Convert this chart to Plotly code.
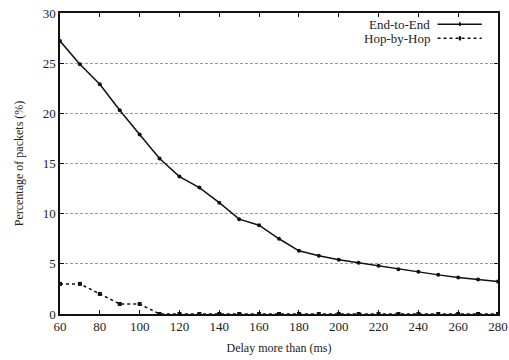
import plotly.graph_objects as go

delay = [60, 70, 80, 90, 100, 110, 120, 130, 140, 150, 160, 170, 180, 190, 200,
         210, 220, 230, 240, 250, 260, 270, 280]
end_to_end = [27.2, 24.9, 22.9, 20.3, 17.9, 15.5, 13.7, 12.6, 11.1, 9.45, 8.85, 7.5,
              6.3, 5.8, 5.4, 5.1, 4.8, 4.45, 4.2, 3.9, 3.65, 3.45, 3.25]
hop_by_hop = [3, 3, 2, 1, 1, 0, 0, 0, 0, 0, 0, 0, 0, 0, 0, 0, 0, 0, 0, 0, 0, 0, 0]
names = ["End-to-End", "Hop-by-Hop"]
x_ticks = list(range(60, 281, 20))
y_ticks = list(range(0, 31, 5))

FONT = "Liberation Serif"
fig = go.Figure()
fig.add_trace(go.Scatter(x=delay, y=end_to_end, name=names[0], mode="lines+markers",
                         line=dict(color="#111", width=1.5),
                         marker=dict(symbol="circle", size=4, color="#111"),
                         showlegend=False, cliponaxis=False))
fig.add_trace(go.Scatter(x=delay, y=hop_by_hop, name=names[1], mode="lines+markers",
                         line=dict(color="#111", width=1.5, dash="dot"),
                         marker=dict(symbol="square", size=4, color="#111"),
                         showlegend=False, cliponaxis=False))

# custom legend (text on the left, sample on the right, like gnuplot)
for i, (nm, dash, sym) in enumerate([(names[0], "solid", "circle"), (names[1], "dot", "square")]):
    yp = 0.963 - i * 0.047
    fig.add_annotation(x=0.850, y=yp, xref="paper", yref="paper", text=nm, showarrow=False,
                       xanchor="right", yanchor="middle", font=dict(family=FONT, size=13, color="#222"))
    fig.add_shape(type="line", xref="paper", yref="paper", x0=0.862, x1=0.963, y0=yp, y1=yp,
                  line=dict(color="#111", width=1.5, dash=dash))
    fig.add_shape(type="circle" if sym == "circle" else "rect", xref="paper", yref="paper",
                  x0=0.9105, x1=0.9155, y0=yp - 0.007, y1=yp + 0.007,
                  fillcolor="#111", line=dict(color="#111", width=0))

fig.update_layout(
    width=509, height=360,
    margin=dict(l=60, r=11, t=13, b=46),
    paper_bgcolor="white", plot_bgcolor="white",
    font=dict(family=FONT, size=13, color="#222"),
)
fig.update_xaxes(range=[60, 280], tickvals=x_ticks, ticks="inside", ticklen=4,
                 tickcolor="#111", showline=True, linecolor="#111", linewidth=1.5,
                 mirror="ticks", showgrid=False, zeroline=False, automargin=False,
                 title=dict(text="Delay more than (ms)", standoff=10, font=dict(size=12)))
fig.update_yaxes(range=[0, 30], tickvals=y_ticks, ticks="inside", ticklen=4,
                 tickcolor="#111", showline=True, linecolor="#111", linewidth=1.5,
                 mirror="ticks", showgrid=True, gridcolor="#999", griddash="3px,2px",
                 gridwidth=1, zeroline=False, automargin=False,
                 title=dict(text="Percentage of packets (%)", standoff=16, font=dict(size=12)))

fig.write_html("out.html")
